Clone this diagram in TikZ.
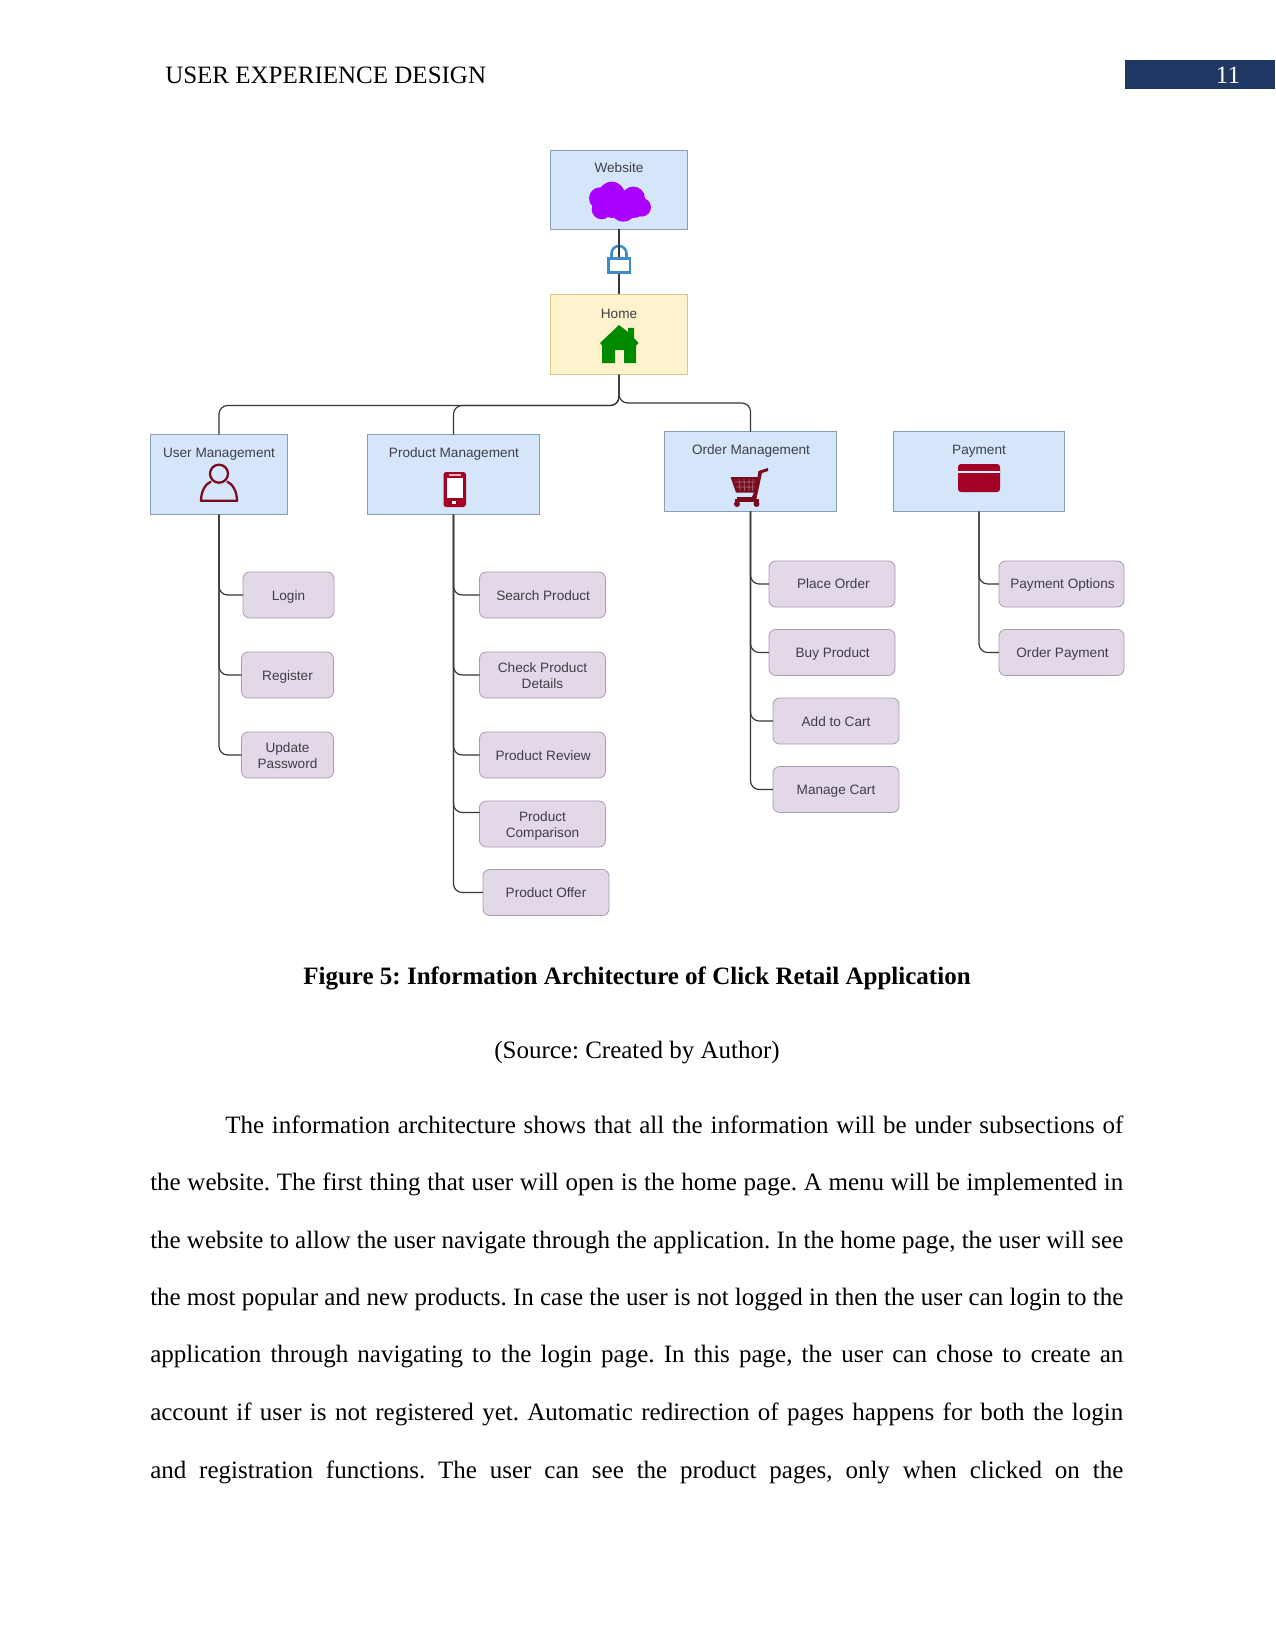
\documentclass[tikz,border=0pt]{standalone}
\usepackage{fontspec}
\setmainfont{Liberation Serif}
\newfontfamily\diagfont{Liberation Sans}
\frenchspacing
\definecolor{boxblue}{HTML}{D6E6FA}
\definecolor{edgeblue}{HTML}{8A9DB5}
\definecolor{boxyellow}{HTML}{FFF2CC}
\definecolor{edgeyellow}{HTML}{D9C88A}
\definecolor{boxlilac}{HTML}{E3D8E8}
\definecolor{edgelilac}{HTML}{A99BB2}
\definecolor{labelgrey}{HTML}{3E3E48}
\definecolor{iconred}{HTML}{A20025}
\definecolor{iconmaroon}{HTML}{7A0A1E}
\definecolor{iconpurple}{HTML}{AA00FF}
\definecolor{icongreen}{HTML}{008A00}
\definecolor{lockblue}{HTML}{3C8CC8}
\definecolor{headerblue}{HTML}{1F3864}
\tikzset{
  x=0.75pt, y=-0.75pt,
  area/.style={rectangle, draw=edgeblue, fill=boxblue, line width=0.6pt, inner sep=0pt, outer sep=0pt},
  homearea/.style={area, draw=edgeyellow, fill=boxyellow},
  leaf/.style={rectangle, rounded corners=5pt, draw=edgelilac, fill=boxlilac, line width=0.6pt,
    inner sep=0pt, outer sep=0pt, align=center, text=labelgrey, text depth=0pt,
    font=\diagfont\fontsize{10.2}{12}\selectfont},
  title/.style={inner sep=0pt, text=labelgrey, font=\diagfont\fontsize{10.2}{12}\selectfont, anchor=base},
  conn/.style={draw=black!78, line width=0.9pt, rounded corners=6.5pt},
  bodyline/.style={inner sep=0pt, anchor=base west, font=\fontsize{18.75}{22}\selectfont},
  centerline/.style={inner sep=0pt, anchor=base, font=\fontsize{18.75}{22}\selectfont},
}
% A leaf box from its top-left corner and size
\newcommand{\leafbox}[6]{%
  \node[leaf, minimum width=#4*0.75pt, minimum height=#5*0.75pt] (#1) at (#2+#4/2,#3+#5/2) {#6};}
% Invisible strut that sets a label slightly lower in its box
\newcommand{\lowerlabel}{\rule{0pt}{8.2pt}}
% A justified line of running text
\newcommand{\para}[5]{\node[bodyline] (#1) at (#2,#3) {\makebox[\dimexpr #4pt*3/4\relax][s]{#5}};}
\begin{document}
\begin{tikzpicture}
\useasboundingbox (0,0) rectangle (1275,1651);
\fill[white] (0,0) rectangle (1275,1651);

% running head
\node[centerline, anchor=base west] (head) at (165,84) {USER EXPERIENCE DESIGN};
\fill[headerblue] (1125,60) rectangle (1275,89);
\node[centerline, text=white] (pageno) at (1228,84) {11};

% top-level boxes
\node[area, minimum width=103pt, minimum height=59.25pt] (web) at (619,189.5) {};
\node[homearea, minimum width=103pt, minimum height=60pt] (home) at (619,334.5) {};
\node[area, minimum width=103pt, minimum height=60pt] (um) at (219,474.5) {};
\node[area, minimum width=128.5pt, minimum height=60pt] (pm) at (453.5,474.5) {};
\node[area, minimum width=128.5pt, minimum height=60pt] (om) at (750.5,471.5) {};
\node[area, minimum width=128.5pt, minimum height=60pt] (pay) at (979,471.5) {};
\node[title] (webt) at (619,172.5) {Website};
\node[title] (homet) at (619,318.5) {Home};
\node[title] (umt) at (219,457.5) {User Management};
\node[title] (pmt) at (454,457.5) {Product Management};
\node[title] (omt) at (751,454) {Order Management};
\node[title] (payt) at (979,454) {Payment};

% leaf boxes
\leafbox{login}{243}{572}{91}{46}{\lowerlabel Login}
\leafbox{register}{241.5}{652}{92}{46}{\lowerlabel Register}
\leafbox{updpw}{241.5}{732}{92}{46}{\lowerlabel Update\\Password}
\leafbox{search}{479.5}{572}{126}{46}{\lowerlabel\hspace*{1pt}Search Product}
\leafbox{details}{479.5}{652}{126}{46}{\lowerlabel Check Product\\Details}
\leafbox{review}{479.5}{732}{126}{46}{\lowerlabel\hspace*{1pt}Product Review}
\leafbox{compare}{479.5}{801}{126}{46}{\lowerlabel Product\\Comparison}
\leafbox{offer}{483}{869.5}{126}{46}{Product Offer}
\leafbox{place}{769}{561}{126}{46}{\hspace*{2pt}Place Order}
\leafbox{buy}{769}{629.5}{126}{46}{\hspace*{1pt}Buy Product}
\leafbox{addcart}{773}{698}{126}{46}{\lowerlabel Add to Cart}
\leafbox{manage}{773}{766.5}{126}{46}{Manage Cart}
\leafbox{payopt}{999}{561}{125}{46}{\hspace*{1.5pt}Payment Options}
\leafbox{orderpay}{999}{629.5}{125}{46}{\hspace*{1.5pt}Order Payment}

% connectors
\coordinate (busleft) at (619,405.5);
\coordinate (busright) at (619,403);
\coordinate (compareport) at (479.5,812.5);
\node[inner sep=0pt, minimum width=17pt, minimum height=21pt] (lock) at (619,259) {};
\draw[conn] (web.south) -- (lock.north);
\draw[conn] (lock.south) -- (home.north);
\draw[conn] (home.south) -- (home.south |- busleft) -- (um.north |- busleft) -- (um.north);
\draw[conn] (home.south) -- (home.south |- busleft) -- (pm.north |- busleft) -- (pm.north);
\draw[conn] (home.south) -- (home.south |- busright) -- (om.north |- busright) -- (om.north);
\foreach \kid in {login,register,updpw} \draw[conn] (um.south) |- (\kid.west);
\foreach \kid in {search,details,review,offer} \draw[conn] (pm.south) |- (\kid.west);
\draw[conn] (pm.south) |- (compareport);
\foreach \kid in {place,buy,addcart,manage} \draw[conn] (om.south) |- (\kid.west);
\foreach \kid in {payopt,orderpay} \draw[conn] (pay.south) |- (\kid.west);

% padlock
\draw[lockblue, line width=1.9pt] (611.5,259) -- (611.5,253.5) arc[start angle=180, end angle=360, radius=7.5] -- (626.5,259);
\draw[conn] (lock.north) -- (619,258);
\draw[lockblue, fill=white, line width=1.8pt] (608.5,258.5) rectangle (630,272.5);

% cloud
\fill[iconpurple] (611.7,195) circle[radius=13.3] (633.3,198.3) circle[radius=11.7] (600,198.3) circle[radius=11]
  (641.7,207.3) circle[radius=9.3] (601.7,209.3) circle[radius=10] (623.3,208.3) circle[radius=13.3]
  (612,207) circle[radius=11] (634,207) circle[radius=11];

% house
\fill[icongreen] (619,325) -- (628,332) -- (628,328) -- (634,328) -- (634,338) -- (638.5,343) -- (636,345.5)
  -- (636,363) -- (624,363) -- (624,350) -- (615,350) -- (615,363) -- (602,363) -- (602,345.5) -- (600,343) -- cycle;

% person
\draw[iconmaroon, line width=1.7pt] (219,473.7) circle[radius=9];
\draw[iconmaroon, line width=1.7pt, line join=round] (211,481.5) .. controls (205,484) and (201,492) .. (201,500.8)
  -- (237,500.8) .. controls (237,492) and (233,484) .. (227,481.5);

% phone
\fill[iconred, rounded corners=2pt] (443.5,472) rectangle (466,507);
\fill[white] (446.5,478) rectangle (463,498);
\fill[white] (452,500.5) rectangle (456,504);
\fill[white!70!iconred] (449,474) rectangle (461,476);

% shopping cart
\fill[iconmaroon] (768,468) -- (768,471) -- (762,473) -- (755.5,503) -- (752,500) -- (737,500) -- (737,497) -- (752,497) -- (754,492.5) -- (736,492.5)
  -- (730.5,477) -- (757.5,477) -- (758.5,471) -- cycle;
\draw[boxblue!45!iconmaroon, line width=0.5pt] (734.5,482) -- (755.5,482) (735.5,487) -- (754.5,487)
  (739,479) -- (740,490.5) (744,479) -- (744.5,490.5) (749,479) -- (749,490.5) (753,479) -- (752.5,490.5);
\fill[iconmaroon] (737,504) circle[radius=3] (756.5,504) circle[radius=3];
\fill[iconmaroon] (734.5,499) rectangle (759,502);

% card
\fill[iconred, rounded corners=2.2pt] (958,464) rectangle (1000,492);
\fill[boxblue!70!white] (958,470.5) rectangle (1000,472.5);

% caption
\node[centerline, font=\fontsize{18.75}{22}\selectfont\bfseries] (caption) at (637,984) {Figure 5: Information Architecture of Click Retail Application};
\node[centerline] (source) at (637,1058) {(Source: Created by Author)};

% body paragraph
\para{la}{225}{1133}{898}{The information architecture shows that all the information will be under subsections of}
\para{lb}{150}{1190}{973}{the website. The first thing that user will open is the home page. A menu will be implemented in}
\para{lc}{150}{1248}{973}{the website to allow the user navigate through the application. In the home page, the user will see}
\para{ld}{150}{1305}{973}{the most popular and new products. In case the user is not logged in then the user can login to the}
\para{le}{150}{1362.5}{973}{application through navigating to the login page. In this page, the user can chose to create an}
\para{lf}{150}{1420}{973}{account if user is not registered yet. Automatic redirection of pages happens for both the login}
\para{lg}{150}{1478}{973}{and registration functions. The user can see the product pages, only when clicked on the}
\end{tikzpicture}
\end{document}
